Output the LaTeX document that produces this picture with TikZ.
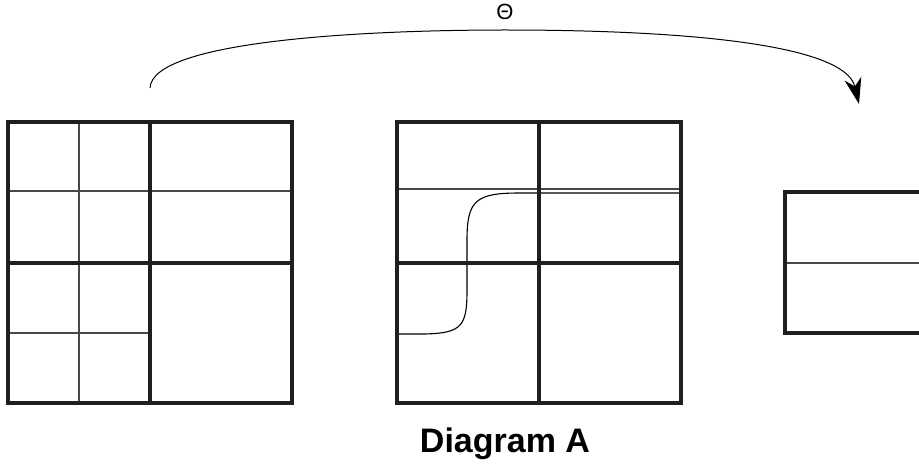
\documentclass[tikz,border=0pt]{standalone}
\usepackage{fontspec}
\setmainfont{Liberation Sans}
\usetikzlibrary{arrows.meta}
\begin{document}
\begin{tikzpicture}[x=1pt,y=-1pt,
  thickln/.style={line width=3.2pt,draw=black!88},
  thinln/.style={line width=1.1pt,draw=black!72},
  curveln/.style={line width=1.1pt,draw=black}]
\useasboundingbox (0,0) rectangle (919,476);
% left grid
\draw[thinln] (79,122) -- (79,403);
\draw[thinln] (8,191) -- (292,191);
\draw[thinln] (8,333) -- (150,333);
\draw[thickln] (150,122) -- (150,403);
\draw[thickln] (8,263) -- (292,263);
\draw[thickln] (8,122) rectangle (292,403);
% middle grid
\draw[thinln] (397,189) -- (681,189);
\draw[curveln] (397,334) -- (425,334) .. controls (462,333) and (467,326) .. (467,290)
  -- (467,240) .. controls (467,200) and (476,193) .. (520,193) -- (681,193);
\draw[thickln] (539,122) -- (539,403);
\draw[thickln] (397,263) -- (681,263);
\draw[thickln] (397,122) rectangle (681,403);
% right rect
\draw[thinln] (785,263) -- (925,263);
\draw[thickln] (785,192) rectangle (930,333);
% arrow
\coordinate (s) at (150,88);
\coordinate (e) at (859,104);
\draw[line width=1pt,-{Stealth[length=26pt,width=17pt,inset=8pt]}] (s) .. controls (152,40) and (370,30) .. (505,30)
  .. controls (690,30) and (845,45) .. (e);
\node (theta) at (505,12) {\fontsize{22}{24}\selectfont Θ};
\node (cap) at (505,444) {\fontsize{34}{38}\selectfont\bfseries Diagram A};
\end{tikzpicture}
\end{document}
